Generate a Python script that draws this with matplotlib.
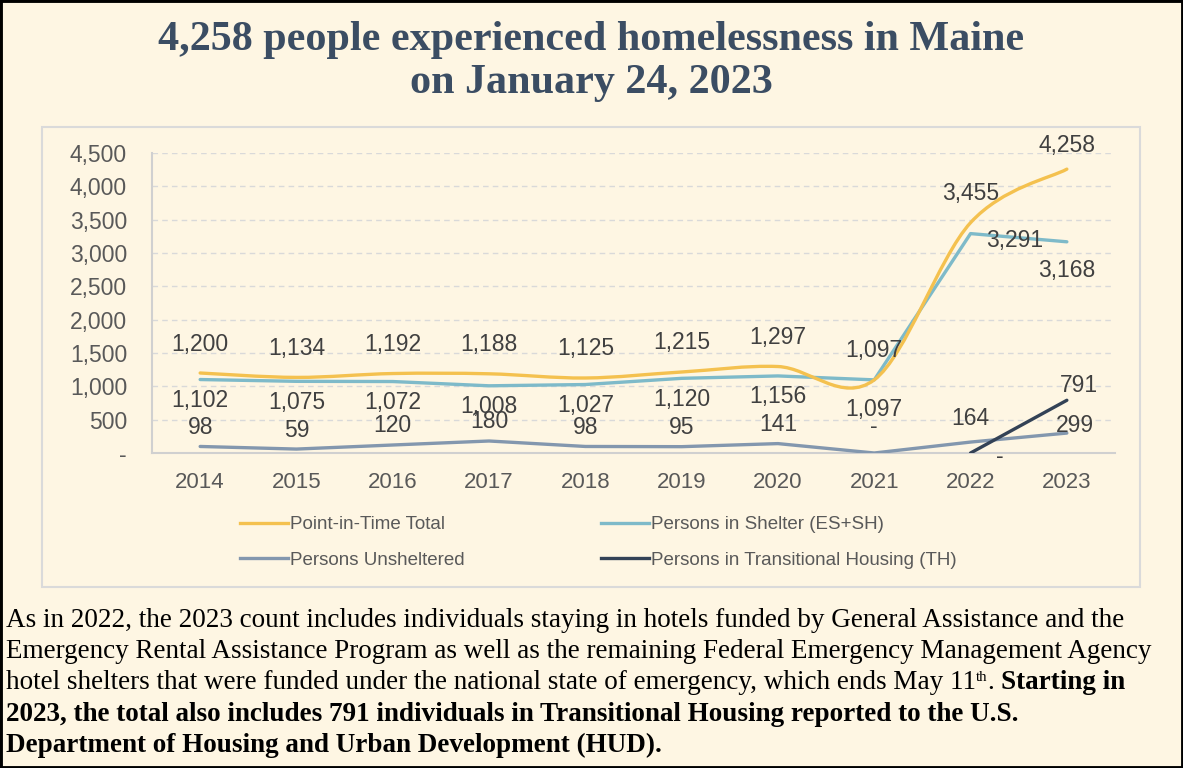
import matplotlib
matplotlib.use("Agg")
import matplotlib.pyplot as plt
from matplotlib.path import Path
from matplotlib.patches import PathPatch, Rectangle
from matplotlib.lines import Line2D
from matplotlib.ticker import FuncFormatter, MultipleLocator

years = ["2014", "2015", "2016", "2017", "2018", "2019", "2020", "2021", "2022", "2023"]
total = [1200, 1134, 1192, 1188, 1125, 1215, 1297, 1097, 3455, 4258]
shelter = [1102, 1075, 1072, 1008, 1027, 1120, 1156, 1097, 3291, 3168]
unsheltered = [98, 59, 120, 180, 98, 95, 141, 0, 164, 299]
th_years = ["2022", "2023"]
transitional = [0, 791]

title = "4,258 people experienced homelessness in Maine\non January 24, 2023"

BG = "#FEF6E3"
C_TOTAL = "#F4C14F"
C_SHELTER = "#7EBAC9"
C_UNSH = "#8397AE"
C_TH = "#334256"
LABEL_C = "#404040"
TICK_C = "#595959"

W, H = 1183, 768
fig = plt.figure(figsize=(W / 100, H / 100), dpi=100)
fig.patch.set_facecolor(BG)


def fx(px):
    return px / W


def fy(py):
    return 1 - py / H


# outer black frame and inner light chart box
fig.add_artist(Rectangle((0, 0), 1, 1, transform=fig.transFigure, fill=False,
                         edgecolor="black", linewidth=3.5, zorder=10))
fig.add_artist(Rectangle((fx(42), fy(587)), fx(1140 - 42), (587 - 127) / H,
                         transform=fig.transFigure, fill=False,
                         edgecolor="#DADADA", linewidth=1.5))

ax = fig.add_axes([fx(152), fy(453), fx(1115 - 152), 300 / H])
ax.set_facecolor("none")
x = list(range(len(years)))
ax.set_xlim(-0.5, len(years) - 0.5)
ax.set_ylim(0, 4500)

ax.yaxis.set_major_locator(MultipleLocator(500))
ax.yaxis.set_major_formatter(FuncFormatter(lambda v, p: "-" if v == 0 else f"{int(v):,}"))
ax.set_xticks(x)
ax.set_xticklabels(years)
ax.tick_params(axis="y", length=0, pad=18, labelsize=16.5, labelcolor=TICK_C)
ax.tick_params(axis="x", length=0, pad=14, labelsize=16, labelcolor=TICK_C)
for lab in ax.get_xticklabels() + ax.get_yticklabels():
    lab.set_family("Liberation Sans")
ax.grid(axis="y", color="#D9D9D9", linestyle=(0, (4, 3)), linewidth=1)
for s in ["top", "right"]:
    ax.spines[s].set_visible(False)
ax.spines["left"].set_color("#D0D0D0")
ax.spines["bottom"].set_color("#D0D0D0")
ax.spines["left"].set_linewidth(1.5)
ax.spines["bottom"].set_linewidth(1.5)


# smoothed line (Catmull-Rom as Bezier segments) for the total series
def smooth_path(xs, ys):
    verts = [(xs[0], ys[0])]
    codes = [Path.MOVETO]
    n = len(xs)
    for i in range(n - 1):
        a = i - 1 if i > 0 else i
        d = i + 2 if i + 2 < n else i + 1
        c1 = (xs[i] + (xs[i + 1] - xs[a]) / 6, ys[i] + (ys[i + 1] - ys[a]) / 6)
        c2 = (xs[i + 1] - (xs[d] - xs[i]) / 6, ys[i + 1] - (ys[d] - ys[i]) / 6)
        verts += [c1, c2, (xs[i + 1], ys[i + 1])]
        codes += [Path.CURVE4] * 3
    return Path(verts, codes)


lw = 2.4
ax.plot(x, unsheltered, color=C_UNSH, lw=lw, solid_capstyle="round", zorder=3)
th_x = [years.index(y) for y in th_years]
ax.plot(th_x, transitional, color=C_TH, lw=lw, solid_capstyle="round", zorder=3)
ax.plot(x, shelter, color=C_SHELTER, lw=lw, solid_capstyle="round", zorder=4)
ax.add_patch(PathPatch(smooth_path(x, total), fill=False, edgecolor=C_TOTAL,
                       lw=lw, capstyle="round", zorder=5))


def fmt(v):
    return "-" if v == 0 else f"{v:,}"


def put_labels(xs, vals, default, special):
    for xi, v in zip(xs, vals):
        dx, dy = special.get(xi, default)
        ax.annotate(fmt(v), (xi, v), xytext=(dx, dy), textcoords="offset pixels",
                    ha="center", va="center", fontsize=16.5, color=LABEL_C,
                    family="Liberation Sans", zorder=6, annotation_clip=False)


put_labels(x, total, (0, 29), {9: (0, 24)})
put_labels(x, shelter, (0, -21), {7: (0, -30), 8: (44, -7), 9: (0, -29)})
put_labels(x, unsheltered, (0, 19), {7: (0, 27), 8: (0, 24), 9: (8, 8)})
put_labels(th_x, transitional, (0, 0), {8: (29, -3), 9: (12, 15)})

# legend
handles = [Line2D([], [], color=C_TOTAL, lw=2.4),
           Line2D([], [], color=C_UNSH, lw=2.4),
           Line2D([], [], color=C_SHELTER, lw=2.4),
           Line2D([], [], color=C_TH, lw=2.4)]
labels = ["Point-in-Time Total", "Persons Unsheltered",
          "Persons in Shelter (ES+SH)", "Persons in Transitional Housing (TH)"]
leg = fig.legend(handles, labels, ncol=2, loc="upper left",
                 bbox_to_anchor=(fx(240), fy(516)), frameon=False, borderpad=0,
                 borderaxespad=0,
                 prop={"family": "Liberation Sans", "size": 13.5},
                 handlelength=2.55, handletextpad=0.1, columnspacing=7.3,
                 labelspacing=1.0, labelcolor=TICK_C)

renderer = fig.canvas.get_renderer()


def fit_text(t, target):
    w = t.get_window_extent(renderer).width
    t.set_fontsize(t.get_fontsize() * target / w)


# title
t1, t2 = title.split("\n")
tt1 = fig.text(fx(591), fy(50), t1, ha="center", va="baseline", family="Liberation Serif",
               weight="bold", fontsize=26, color="#3B4D63")
fit_text(tt1, 867)
tt2 = fig.text(fx(591), fy(93), t2, ha="center", va="baseline", family="Liberation Serif",
               weight="bold", fontsize=tt1.get_fontsize(), color="#3B4D63")

# body text
body = [
    "As in 2022, the 2023 count includes individuals staying in hotels funded by General Assistance and the",
    "Emergency Rental Assistance Program as well as the remaining Federal Emergency Management Agency",
]
probe = fig.text(0, 0, body[1], family="Liberation Serif", fontsize=16)
fit_text(probe, 1150)
bsize = probe.get_fontsize()
probe.remove()

left = 6
baselines = [627, 658, 689, 721, 752]
for line, b in zip(body, baselines[:2]):
    fig.text(fx(left), fy(b), line, family="Liberation Serif", fontsize=bsize,
             va="baseline", color="black")

# third line: regular, superscript, then bold
xpos = left
pieces = [("hotel shelters that were funded under the national state of emergency, which ends May 11", "normal", bsize, 0),
          ("th", "normal", bsize * 0.55, 8),
          (". ", "normal", bsize, 0),
          ("Starting in", "bold", bsize, 0)]
for txt, wgt, sz, rise in pieces:
    t = fig.text(fx(xpos), fy(baselines[2] - rise), txt, family="Liberation Serif",
                 fontsize=sz, weight=wgt, va="baseline", color="black")
    xpos += t.get_window_extent(renderer).width

bold_lines = ["2023, the total also includes 791 individuals in Transitional Housing reported to the U.S.",
              "Department of Housing and Urban Development (HUD)."]
for line, b in zip(bold_lines, baselines[3:]):
    fig.text(fx(left), fy(b), line, family="Liberation Serif", fontsize=bsize,
             weight="bold", va="baseline", color="black")

fig.savefig("out.png", dpi=100, facecolor=BG)
